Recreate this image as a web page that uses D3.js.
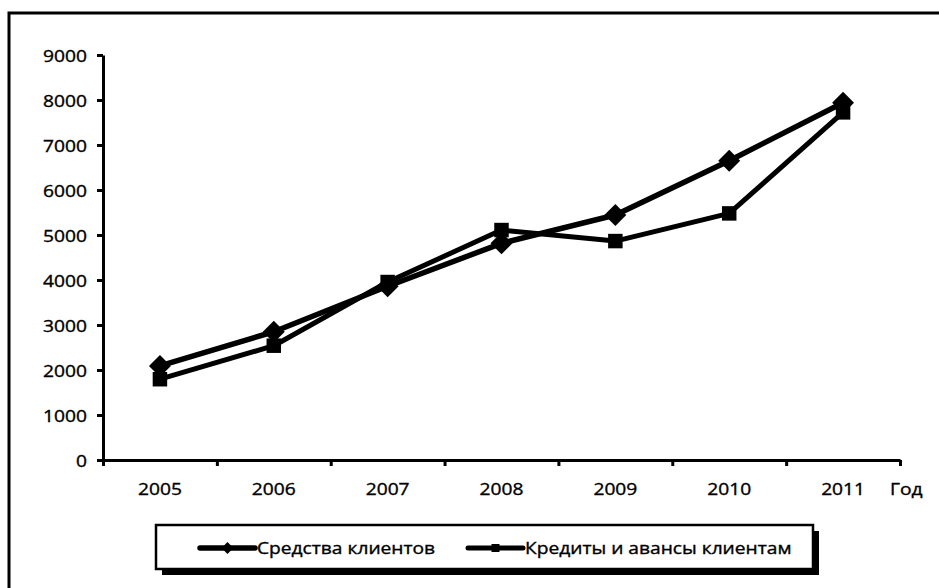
<!DOCTYPE html>
<html>
<head>
<meta charset="utf-8">
<script src="https://cdn.jsdelivr.net/npm/d3@7"></script>
<style>
  html, body { margin: 0; padding: 0; background: #fff; }
  svg text { font-family: "Open Sans", "DejaVu Sans", sans-serif; fill: #000; stroke: #000; stroke-width: 0.35px; }
</style>
</head>
<body>
<svg id="chart" width="939" height="588"></svg>
<script>
// Годы и значения двух рядов
const years = ["2005", "2006", "2007", "2008", "2009", "2010", "2011"];
const clientFunds = [2090, 2850, 3860, 4815, 5445, 6650, 7940];   // Средства клиентов
const clientLoans = [1795, 2540, 3955, 5110, 4865, 5480, 7725];   // Кредиты и авансы клиентам
const yTicks = [0, 1000, 2000, 3000, 4000, 5000, 6000, 7000, 8000, 9000];
const seriesNames = ["Средства клиентов", "Кредиты и авансы клиентам"];
const axisTitle = "Год";

const svg = d3.select("#chart");
const fontSize = 16;
const textScaleX = 1.2;

// Внешняя рамка
svg.append("rect")
  .attr("x", 9).attr("y", 13)
  .attr("width", 945).attr("height", 590)
  .attr("fill", "#fff").attr("stroke", "#000").attr("stroke-width", 3);

const plotLeft = 103, plotRight = 900, plotTop = 55, plotBottom = 460;

const x = d3.scaleBand().domain(years).range([plotLeft, plotRight]).padding(0);
const xEdges = d3.scaleLinear().domain([0, years.length]).range([plotLeft, plotRight]);
const y = d3.scaleLinear().domain([0, 9000]).range([plotBottom, plotTop]);

// Ось Y
const yAxis = svg.append("g")
  .attr("transform", `translate(${plotLeft},0)`)
  .call(d3.axisLeft(y).tickValues(yTicks).tickFormat(d3.format("d"))
    .tickSize(6).tickPadding(10).tickSizeOuter(0));
yAxis.select(".domain").attr("stroke-width", 3);
yAxis.selectAll(".tick line").attr("stroke-width", 3);
yAxis.selectAll(".tick text")
  .attr("font-size", fontSize)
  .attr("x", null).attr("dy", null)
  .attr("dominant-baseline", "central")
  .attr("transform", `translate(-16,0) scale(${textScaleX},1)`)
  .attr("text-anchor", "end");

// Ось X: деления на границах категорий
const xTickAxis = svg.append("g")
  .attr("transform", `translate(0,${plotBottom})`)
  .call(d3.axisBottom(xEdges).tickValues(d3.range(years.length + 1)).tickFormat("").tickSize(6).tickSizeOuter(0));
xTickAxis.select(".domain").attr("stroke-width", 3);
xTickAxis.selectAll(".tick line").attr("stroke-width", 3);

// Подписи годов
const xLabelAxis = svg.append("g")
  .attr("transform", `translate(0,${plotBottom})`)
  .call(d3.axisBottom(x).tickSize(0).tickPadding(0));
xLabelAxis.select(".domain").remove();
xLabelAxis.selectAll(".tick text")
  .attr("font-size", fontSize)
  .attr("y", null).attr("dy", null)
  .attr("dominant-baseline", "central")
  .attr("transform", `translate(0,29) scale(${textScaleX},1)`);

svg.append("text")
  .attr("transform", `translate(890,489) scale(${textScaleX},1)`)
  .attr("dominant-baseline", "central")
  .attr("font-size", fontSize)
  .text(axisTitle);

const cx = (d, i) => x(years[i]) + x.bandwidth() / 2;
const line = d3.line().x((d, i) => cx(d, i)).y(d => y(d));

// Линии рядов
svg.append("path").datum(clientLoans)
  .attr("d", line).attr("fill", "none").attr("stroke", "#000")
  .attr("stroke-width", 5).attr("stroke-linejoin", "round");
svg.append("path").datum(clientFunds)
  .attr("d", line).attr("fill", "none").attr("stroke", "#000")
  .attr("stroke-width", 5.5).attr("stroke-linejoin", "round");

const diamond = d3.symbol().type(d3.symbolSquare).size(240);
const square = d3.symbol().type(d3.symbolSquare).size(210);

svg.append("g").selectAll("path").data(clientLoans).join("path")
  .attr("d", square)
  .attr("transform", (d, i) => `translate(${cx(d, i)},${y(d)})`)
  .attr("fill", "#000");
svg.append("g").selectAll("path").data(clientFunds).join("path")
  .attr("d", diamond)
  .attr("transform", (d, i) => `translate(${cx(d, i)},${y(d)}) rotate(45)`)
  .attr("fill", "#000");

// Легенда с тенью
const lg = { x: 156, y: 525, w: 657, h: 44 };
svg.append("rect")
  .attr("x", lg.x + 6).attr("y", lg.y + 6)
  .attr("width", lg.w).attr("height", lg.h).attr("fill", "#000");
svg.append("rect")
  .attr("x", lg.x).attr("y", lg.y)
  .attr("width", lg.w).attr("height", lg.h)
  .attr("fill", "#fff").attr("stroke", "#000").attr("stroke-width", 2.5);

const legendItems = [
  { name: seriesNames[0], x0: 200, sym: d3.symbol().type(d3.symbolSquare).size(70), rot: 45, sw: 5.5 },
  { name: seriesNames[1], x0: 468, sym: d3.symbol().type(d3.symbolSquare).size(64), rot: 0, sw: 5 }
];
const ly = lg.y + lg.h / 2 + 1;
legendItems.forEach(it => {
  svg.append("line")
    .attr("x1", it.x0).attr("x2", it.x0 + 55)
    .attr("y1", ly).attr("y2", ly)
    .attr("stroke", "#000").attr("stroke-width", it.sw).attr("stroke-linecap", "round");
  svg.append("path")
    .attr("d", it.sym)
    .attr("transform", `translate(${it.x0 + 27.5},${ly}) rotate(${it.rot})`)
    .attr("fill", "#000");
  svg.append("text")
    .attr("transform", `translate(${it.x0 + 57},${ly}) scale(${textScaleX},1)`)
    .attr("dominant-baseline", "central")
    .attr("font-size", fontSize)
    .text(it.name);
});
</script>
</body>
</html>
